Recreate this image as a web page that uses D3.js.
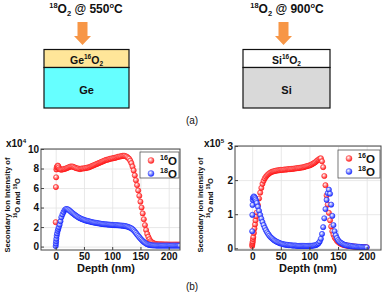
<!DOCTYPE html>
<html>
<head>
<meta charset="utf-8">
<script src="https://cdn.jsdelivr.net/npm/d3@7"></script>
<style>
  html, body { margin: 0; padding: 0; background: #fff; }
  svg { display: block; font-family: "Liberation Sans", Arial, sans-serif; }
</style>
</head>
<body>
<svg id="chart" width="383" height="294"></svg>
<script>
// ---- data (intensities) ----
// Ge sample, x10^4
const geDepth = [0, 0.4, 0.8, 1.2, 1.8, 2.5, 3.5, 4.5, 5.5, 7, 8.5, 10, ...d3.range(12, 221, 2)];
const geO16 = [2.5, 6.1, 7.1, 7.9, 8.1, 8.2, 8.3, 8.25, 8.1, 7.95, 7.9, 7.88,
  7.9, 7.95, 7.95, 8.0, 8.05, 8.1, 8.15, 8.2, 8.2, 8.2,
  8.15, 8.1, 8.05, 8.0, 8.0, 7.95, 7.95, 8.0, 8.0, 8.0,
  8.05, 8.05, 8.1, 8.1, 8.15, 8.2, 8.25, 8.3, 8.35, 8.4,
  8.45, 8.5, 8.55, 8.6, 8.65, 8.7, 8.75, 8.8, 8.85, 8.9,
  8.9, 8.95, 9.0, 9.0, 9.05, 9.05, 9.1, 9.1, 9.15, 9.2,
  9.2, 9.25, 9.25, 9.3, 9.3, 9.3, 9.25, 9.2, 9.1, 9.0,
  8.8, 8.55, 8.2, 7.8, 7.3, 6.8, 6.3, 5.75, 5.2, 4.6,
  4.0, 3.4, 2.8, 2.2, 1.7, 1.3, 1.0, 0.75, 0.55, 0.45,
  0.38, 0.32, 0.28, 0.26, 0.24, 0.23, 0.23, 0.22, 0.22, 0.22,
  0.21, 0.21, 0.21, 0.21, 0.2, 0.2, 0.2, 0.2, 0.2, 0.2,
  0.2, 0.2, 0.2, 0.2, 0.2];
const geO18 = [0.05, 0.3, 0.55, 0.8, 1.1, 1.35, 1.6, 1.8, 2.0, 2.25, 2.6, 3.0,
  3.3, 3.55, 3.75, 3.85, 3.85, 3.8, 3.72, 3.62, 3.52, 3.42,
  3.33, 3.24, 3.16, 3.08, 3.0, 2.94, 2.88, 2.83, 2.78, 2.74,
  2.7, 2.66, 2.63, 2.6, 2.57, 2.54, 2.51, 2.48, 2.46, 2.44,
  2.42, 2.4, 2.38, 2.36, 2.34, 2.32, 2.3, 2.29, 2.28, 2.27,
  2.26, 2.25, 2.24, 2.23, 2.22, 2.21, 2.2, 2.2, 2.19, 2.18,
  2.17, 2.16, 2.15, 2.14, 2.13, 2.11, 2.09, 2.06, 2.02, 1.97,
  1.93, 1.87, 1.78, 1.67, 1.54, 1.4, 1.25, 1.1, 0.96, 0.82,
  0.7, 0.58, 0.48, 0.39, 0.31, 0.25, 0.2, 0.17, 0.15, 0.13,
  0.12, 0.11, 0.11, 0.1, 0.1, 0.1, 0.1, 0.1, 0.1, 0.1,
  0.1, 0.1, 0.1, 0.1, 0.1, 0.1, 0.1, 0.1, 0.1, 0.1,
  0.1, 0.1, 0.1, 0.1, 0.1];

// Si sample, x10^5
const siDepth = [0, 0.3, 0.6, 1, 1.5, 2, 3, 4, 5, 6, 7, 8, ...d3.range(10, 201, 2)];
const siO16 = [0.07, 0.12, 0.16, 0.2, 0.27, 0.33, 0.45, 0.58, 0.7, 0.82, 0.94, 1.05,
  1.27, 1.46, 1.63, 1.77, 1.89, 1.98, 2.05, 2.1, 2.14, 2.17,
  2.2, 2.22, 2.24, 2.25, 2.26, 2.27, 2.28, 2.28, 2.29, 2.29,
  2.3, 2.3, 2.3, 2.31, 2.31, 2.31, 2.32, 2.32, 2.32, 2.33,
  2.33, 2.33, 2.34, 2.34, 2.35, 2.35, 2.36, 2.36, 2.37, 2.37,
  2.38, 2.39, 2.4, 2.41, 2.42, 2.43, 2.44, 2.46, 2.48, 2.5,
  2.52, 2.55, 2.58, 2.6, 2.63, 2.64, 2.55, 2.38, 2.12, 1.85,
  1.55, 1.28, 1.04, 0.82, 0.64, 0.5, 0.4, 0.32, 0.27, 0.22,
  0.19, 0.16, 0.14, 0.12, 0.11, 0.1, 0.09, 0.08, 0.08, 0.07,
  0.07, 0.06, 0.06, 0.05, 0.05, 0.05, 0.04, 0.04, 0.04, 0.04,
  0.03, 0.03, 0.03, 0.03, 0.03, 0.03];
const siO18 = [0.5, 0.98, 1.27, 1.42, 1.48, 1.5, 1.52, 1.5, 1.47, 1.43, 1.38, 1.33,
  1.22, 1.1, 0.98, 0.87, 0.77, 0.68, 0.6, 0.53, 0.47, 0.42,
  0.37, 0.33, 0.3, 0.27, 0.24, 0.22, 0.2, 0.18, 0.17, 0.15,
  0.14, 0.13, 0.12, 0.11, 0.11, 0.1, 0.1, 0.09, 0.09, 0.09,
  0.08, 0.08, 0.08, 0.08, 0.07, 0.07, 0.07, 0.07, 0.07, 0.07,
  0.07, 0.07, 0.07, 0.07, 0.07, 0.07, 0.07, 0.07, 0.08, 0.08,
  0.09, 0.1, 0.12, 0.15, 0.2, 0.28, 0.42, 0.62, 0.88, 1.15,
  1.42, 1.62, 1.72, 1.6, 1.28, 0.95, 0.68, 0.5, 0.38, 0.3,
  0.24, 0.2, 0.17, 0.15, 0.13, 0.11, 0.1, 0.09, 0.08, 0.08,
  0.07, 0.07, 0.06, 0.06, 0.05, 0.05, 0.05, 0.04, 0.04, 0.04,
  0.04, 0.03, 0.03, 0.03, 0.03, 0.03];

const depthTicks = [0, 50, 100, 150, 200];
const geTicks = [0, 2, 4, 6, 8, 10];
const siTicks = [0, 1, 2, 3];
const legendIsotopes = ["16", "18"];

const svg = d3.select("#chart");
const defs = svg.append("defs");

[["ballRed", "#ffffff", "#ff8a8a", "#ff2020"], ["ballBlue", "#ffffff", "#8a96ff", "#2030ff"]].forEach(([id, c0, c1, c2]) => {
    const g = defs.append("radialGradient").attr("id", id)
        .attr("cx", "38%").attr("cy", "35%").attr("r", "65%");
    g.append("stop").attr("offset", "0%").attr("stop-color", c0);
    g.append("stop").attr("offset", "50%").attr("stop-color", c1);
    g.append("stop").attr("offset", "100%").attr("stop-color", c2);
});

// text with super/subscript parts
function richText(parent, x, y, parts, size, anchor = "middle", weight = "bold") {
    const t = parent.append("text")
        .attr("x", x).attr("y", y)
        .attr("font-size", size)
        .attr("font-weight", weight)
        .attr("text-anchor", anchor)
        .attr("fill", "#111");
    let shift = 0;
    parts.forEach(([s, kind]) => {
        const target = kind === "sup" ? -0.42 : kind === "sub" ? 0.28 : 0;
        t.append("tspan")
            .attr("dy", ((target - shift) * size).toFixed(2))
            .attr("font-size", kind ? size * 0.62 : size)
            .text(s);
        shift = target;
    });
    return t;
}

// ---- (a) schematic ----
function drawStack(cx, left, right, temp, oxide, base, oxideFill, baseFill) {
    const g = svg.append("g");
    richText(g, cx, 13, [["18", "sup"], ["O", null], ["2", "sub"], [" @ " + temp, null], ["o", "sup"], ["C", null]], 12);
    const ax = cx - 3.5;
    g.append("path")
        .attr("d", `M${ax - 5},22 H${ax + 5} V36 H${ax + 8.5} L${ax},45 L${ax - 8.5},36 H${ax - 5} Z`)
        .attr("fill", "#f79646");
    g.append("rect").attr("x", left).attr("y", 49.5).attr("width", right - left).attr("height", 18)
        .attr("fill", oxideFill).attr("stroke", "#111").attr("stroke-width", 1.2);
    g.append("rect").attr("x", left).attr("y", 67.5).attr("width", right - left).attr("height", 40.5)
        .attr("fill", baseFill).attr("stroke", "#111").attr("stroke-width", 1.2);
    richText(g, (left + right) / 2, 63.5, [[oxide, null], ["16", "sup"], ["O", null], ["2", "sub"]], 10.5);
    richText(g, (left + right) / 2, 94, [[base, null]], 11);
}
drawStack(86, 44, 129, "550", "Ge", "Ge", "#ffe699", "#66ffff");
drawStack(287, 243, 330, "900", "Si", "Si", "#ffffff", "#d9d9d9");

svg.append("text").attr("x", 192).attr("y", 124).attr("text-anchor", "middle")
    .attr("font-size", 10).attr("fill", "#111").text("(a)");
svg.append("text").attr("x", 192).attr("y", 290).attr("text-anchor", "middle")
    .attr("font-size", 10).attr("fill", "#111").text("(b)");

// ---- (b) depth profiles ----
function drawPanel(cfg) {
    const x = d3.scaleLinear().domain(cfg.xDomain).range(cfg.xRange);
    const y = d3.scaleLinear().domain(cfg.yDomain).range(cfg.yRange);
    const g = svg.append("g");
    const [x0, x1] = cfg.xRange, [y0, y1] = cfg.yRange;

    g.append("rect").attr("x", x0).attr("y", y1).attr("width", x1 - x0).attr("height", y0 - y1).attr("fill", "#fff");

    // grid
    g.append("g").attr("transform", `translate(0,${y0})`)
        .call(d3.axisBottom(x).tickValues(depthTicks).tickSize(-(y0 - y1)).tickFormat(""))
        .call(s => s.select(".domain").remove())
        .call(s => s.selectAll("line").attr("stroke", "#e2e2e2").attr("stroke-width", 0.8));
    g.append("g").attr("transform", `translate(${x0},0)`)
        .call(d3.axisLeft(y).tickValues(cfg.yTicks).tickSize(-(x1 - x0)).tickFormat(""))
        .call(s => s.select(".domain").remove())
        .call(s => s.selectAll("line").attr("stroke", "#e2e2e2").attr("stroke-width", 0.8));

    const clipId = "clip" + cfg.id;
    defs.append("clipPath").attr("id", clipId)
        .append("rect").attr("x", x0).attr("y", y1).attr("width", x1 - x0).attr("height", y0 - y1);
    const marks = g.append("g").attr("clip-path", `url(#${clipId})`);
    cfg.series.forEach(sr => {
        marks.append("g").selectAll("circle")
            .data(cfg.depth.map((d, i) => [d, sr.values[i]]))
            .join("circle")
            .attr("cx", d => x(d[0]))
            .attr("cy", d => y(d[1]))
            .attr("r", 2.6)
            .attr("fill", `url(#${sr.grad})`)
            .attr("stroke", sr.stroke)
            .attr("stroke-width", 0.6);
    });

    // axes with inward ticks
    const xa = g.append("g").attr("transform", `translate(0,${y0})`)
        .call(d3.axisBottom(x).tickValues(depthTicks).tickSizeInner(-3).tickSizeOuter(0).tickPadding(3));
    const ya = g.append("g").attr("transform", `translate(${x0},0)`)
        .call(d3.axisLeft(y).tickValues(cfg.yTicks).tickFormat(d3.format("d"))
            .tickSizeInner(-3).tickSizeOuter(0).tickPadding(2));
    [xa, ya].forEach(a => {
        a.selectAll(".domain").remove();
        a.selectAll("line").attr("stroke", "#444");
        a.selectAll("text").attr("font-size", 10).attr("font-weight", "bold").attr("fill", "#111")
            .attr("font-family", "Liberation Sans, Arial, sans-serif");
    });
    g.append("rect").attr("x", x0).attr("y", y1).attr("width", x1 - x0).attr("height", y0 - y1)
        .attr("fill", "none").attr("stroke", "#444").attr("stroke-width", 1);

    richText(g, cfg.expX, 147, [["x10", null], [cfg.exp, "sup"]], 10, "start");
    g.append("text").attr("x", cfg.depthLabelX).attr("y", 272).attr("text-anchor", "middle")
        .attr("font-size", 11).attr("font-weight", "bold").attr("fill", "#111").text("Depth (nm)");

    // y label, two rotated lines
    const l1 = g.append("g").attr("transform", `translate(${cfg.labX},205) rotate(-90)`);
    richText(l1, 0, 0, [[cfg.labText, null]], 7.6);
    const l2 = g.append("g").attr("transform", `translate(${cfg.labX + 10},198) rotate(-90)`);
    richText(l2, 0, 0, [["16", "sup"], ["O and ", null], ["18", "sup"], ["O", null]], 7.6);

    // legend
    const [lx, ly, lw, lh] = cfg.legend;
    g.append("rect").attr("x", lx).attr("y", ly).attr("width", lw).attr("height", lh)
        .attr("fill", "#fff").attr("stroke", "#555").attr("stroke-width", 0.8);
    cfg.series.forEach((sr, i) => {
        const cy = ly + 8.5 + i * 13;
        g.append("circle").attr("cx", lx + 11).attr("cy", cy).attr("r", 3)
            .attr("fill", `url(#${sr.grad})`).attr("stroke", sr.stroke).attr("stroke-width", 0.4);
        richText(g, lx + 20, cy + 4, [[legendIsotopes[i], "sup"], ["O", null]], 11.5, "start");
    });
}

drawPanel({
    id: "ge", xDomain: [-26, 220], xRange: [41, 180],
    yDomain: [-0.35, 10], yRange: [250, 149], yTicks: geTicks,
    depth: geDepth,
    series: [{ values: geO16, grad: "ballRed", stroke: "#ff1a1a" }, { values: geO18, grad: "ballBlue", stroke: "#1a2aff" }],
    exp: "4", expX: 6, labX: 10, labText: "Secondary Ion Intensity of",
    depthLabelX: 106, legend: [140, 152, 39, 26]
});
drawPanel({
    id: "si", xDomain: [-30, 225], xRange: [235, 381],
    yDomain: [-0.05, 3], yRange: [250, 146], yTicks: siTicks,
    depth: siDepth,
    series: [{ values: siO16, grad: "ballRed", stroke: "#ff1a1a" }, { values: siO18, grad: "ballBlue", stroke: "#1a2aff" }],
    exp: "5", expX: 204, labX: 203, labText: "Secondary ion intensity of",
    depthLabelX: 308, legend: [338, 150, 42, 28]
});
</script>
</body>
</html>
